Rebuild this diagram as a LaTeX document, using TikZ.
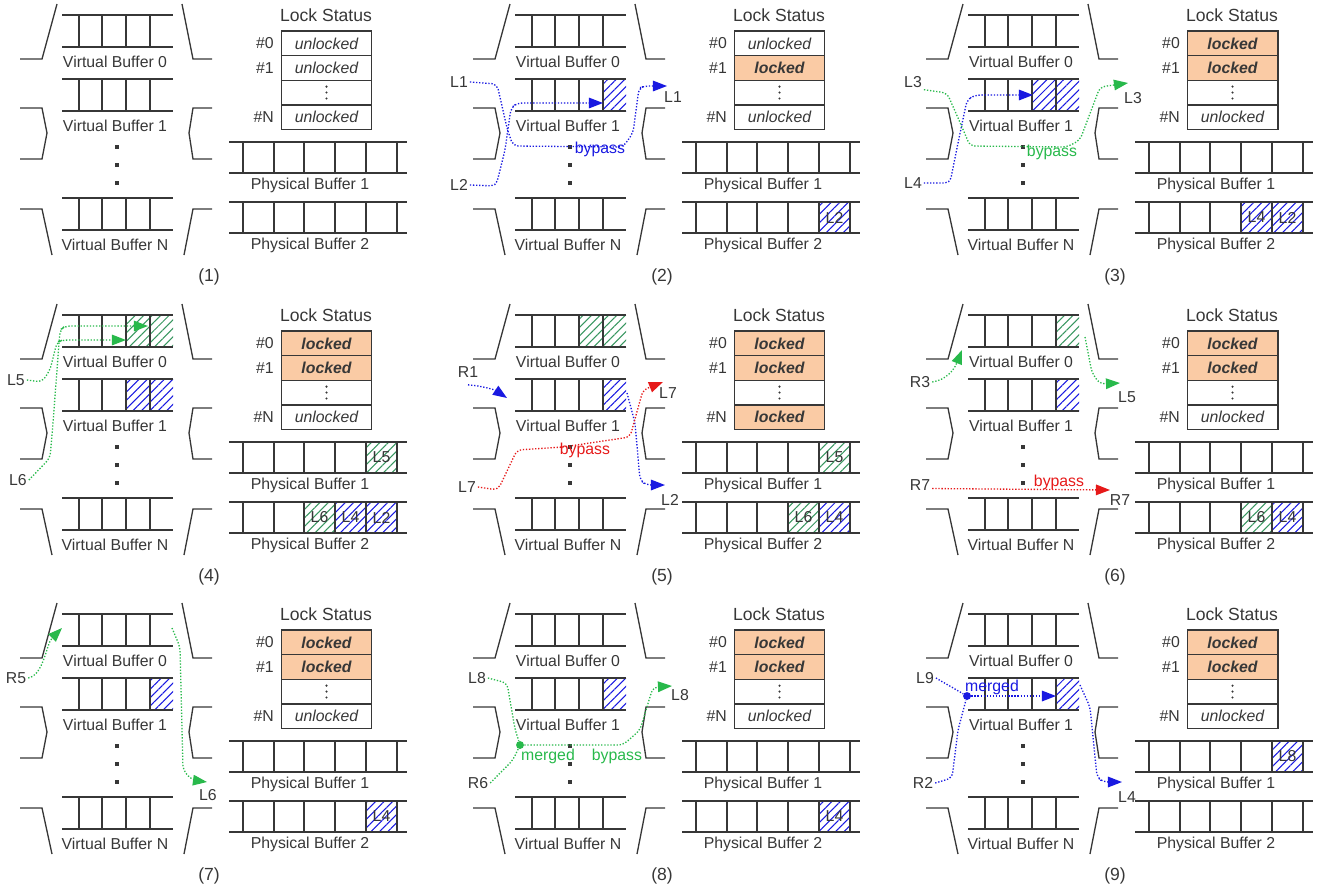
\documentclass[tikz,border=0pt]{standalone}
\usepackage{fontspec}
\setmainfont{Liberation Sans}
\usepackage{xcolor}
\usetikzlibrary{arrows.meta,positioning,patterns.meta}

\definecolor{bufgray}{RGB}{55,55,55}
\definecolor{flowblue}{RGB}{25,25,225}
\definecolor{flowgreen}{RGB}{40,185,75}
\definecolor{hatchgreen}{RGB}{55,150,95}
\definecolor{flowred}{RGB}{230,25,25}
\definecolor{lockfill}{RGB}{250,203,165}

% common part of one panel: virtual buffers, lock table, physical buffers
\newcommand{\bufpanel}[5]{%
  \foreach \vy/\vn in {15/0,79/1,198/N}{
    \draw[bufline] (62,\vy) -- (173,\vy) (62,\vy+32) -- (173,\vy+32);
    \foreach \vx in {79,102,126,150} \draw[bufline] (\vx,\vy) -- (\vx,\vy+32);
    \node[buftext] (#1vb\vn) at (115,\vy+47) {Virtual Buffer \vn};
  }
  \foreach \dy in {147,165,183} \node[vdot] at (117,\dy) {};
  % input and output brackets
  \draw[bufline] (20,59) -- (42,59) -- (57,4);
  \draw[bufline] (20,108) -- (42,108) -- (47,133) -- (42,159) -- (20,159);
  \draw[bufline] (20,209) -- (42,209) -- (52,255);
  \draw[bufline] (182,4) -- (193,59) -- (212,59);
  \draw[bufline] (212,108) -- (193,108) -- (189,133) -- (193,159) -- (212,159);
  \draw[bufline] (212,209) -- (193,209) -- (184,255);
  % lock status table
  \node[titletext] (#1ttl) at (326,15) {Lock Status};
  \node[lockcell,#3] (#1s0) at (326.5,43.4) {};
  \node[lockcell,#4,below=0pt of #1s0] (#1s1) {};
  \node[lockcell,below=0pt of #1s1] (#1sd) {};
  \node[lockcell,#5,below=0pt of #1sd] (#1sN) {};
  \foreach \ly in {-6,0,6} \fill[bufgray] ([yshift=\ly*0.567pt]#1sd.center) circle (0.65pt);
  \node[buftext,left=4pt of #1s0] {\#0};
  \node[buftext,left=4pt of #1s1] {\#1};
  \node[buftext,left=4pt of #1sN] {\#N};
  % physical buffers
  \foreach \py/\pn in {142/1,202/2}{
    \draw[bufline] (229,\py) -- (407,\py) (229,\py+31) -- (407,\py+31);
    \foreach \px in {243,274,304,335,366,397} \draw[bufline] (\px,\py) -- (\px,\py+31);
    \node[buftext] (#1pb\pn) at (310,\py+43) {Physical Buffer \pn};
  }
  \node[titletext] (#1cap) at (209,277) {(#2)};
}

\begin{document}
\begin{tikzpicture}[
    x=0.02cm, y=-0.02cm,
    bufline/.style={draw=bufgray,line width=0.75pt},
    buftext/.style={font=\fontsize{9}{10}\selectfont,text=bufgray,inner sep=0pt},
    titletext/.style={font=\fontsize{10}{12}\selectfont,text=bufgray,inner sep=0pt},
    lbl/.style={font=\fontsize{9}{10}\selectfont,text=bufgray,inner sep=1pt},
    celltext/.style={font=\fontsize{9}{10}\selectfont,text=bufgray,inner sep=0pt},
    lockcell/.style={draw=bufgray,line width=0.75pt,minimum width=51.6pt,minimum height=14pt,
      inner sep=0pt,outer sep=0pt,font=\fontsize{9}{10}\selectfont,text=bufgray},
    lkfree/.style={execute at begin node={\itshape unlocked}},
    lkheld/.style={fill=lockfill,execute at begin node={\bfseries\itshape locked}},
    vdot/.style={fill=bufgray,inner sep=0pt,minimum size=2.4pt},
    mergedot/.style={circle,inner sep=0pt,minimum size=4.5pt},
    hb/.style={pattern={Lines[angle=45,distance=3.4pt,line width=0.6pt]},pattern color=flowblue},
    hg/.style={pattern={Lines[angle=45,distance=3.4pt,line width=0.6pt]},pattern color=hatchgreen},
    flow/.style={densely dotted,line width=0.75pt,rounded corners=3pt},
    headed/.style={-{Triangle[length=8pt,width=6pt]}},
    bflow/.style={flow,draw=flowblue,headed},
    gflow/.style={flow,draw=flowgreen,headed},
    rflow/.style={flow,draw=flowred,headed}
]
\useasboundingbox (0,0) rectangle (1325,890);

% (1)
\begin{scope}
\bufpanel{p1}{1}{lkfree}{lkfree}{lkfree}
\end{scope}

% (2)
\begin{scope}[shift={(453,0)}]
\fill[hb] (150,79) rectangle (173,111);
\fill[hb] (366,202) rectangle (397,233);
\bufpanel{p2}{2}{lkfree}{lkheld}{lkfree}
\node[celltext] (p2c5) at (381.5,217.5) {L2};
\node[lbl] (p2L1) at (6,82) {L1};
\node[lbl] (p2L2) at (6,185) {L2};
\node[lbl] (p2o1) at (220,97) {L1};
\coordinate (p2e1) at (214,86);
\coordinate (p2e2) at (150,103);
\draw[bflow] (p2L1.east) -- (44,84) -- (54,128) -- (60,146) -- (170,147) -- (180,133) -- (186,88) -- (192,86) -- (p2e1);
\draw[bflow] (p2L2.east) -- (43,186) -- (52,150) -- (58,108) -- (64,103) -- (p2e2);
\node[lbl,text=flowblue] (p2by) at (147,149) {bypass};
\end{scope}

% (3)
\begin{scope}[shift={(906,0)}]
\fill[hb] (126,79) rectangle (173,111);
\fill[hb] (335,202) rectangle (397,233);
\bufpanel{p3}{3}{lkheld}{lkheld}{lkfree}
\node[celltext] (p3c4) at (350.5,217.5) {L4};
\node[celltext] (p3c5) at (381.5,217.5) {L2};
\node[lbl] (p3L3) at (7,82) {L3};
\node[lbl] (p3L4) at (7,183) {L4};
\node[lbl] (p3o3) at (227,98) {L3};
\coordinate (p3e3) at (222,83);
\coordinate (p3e4) at (127,95);
\draw[bflow] (p3L4.east) -- (44,183) -- (52,143) -- (61,100) -- (69,95) -- (p3e4);
\draw[gflow] (p3L3.south east) -- (41,93) -- (56,127) -- (64,146) -- (161,147) -- (174,140) -- (194,87) -- (p3e3);
\node[lbl,text=flowgreen] (p3by) at (146,152) {bypass};
\end{scope}

% (4)
\begin{scope}[shift={(0,300)}]
\fill[hg] (126,15) rectangle (173,47);
\fill[hb] (126,79) rectangle (173,111);
\fill[hg] (366,142) rectangle (397,173);
\fill[hg] (304,202) rectangle (335,233);
\fill[hb] (335,202) rectangle (397,233);
\bufpanel{p4}{4}{lkheld}{lkheld}{lkfree}
\node[celltext] (p4c1) at (381.5,157.5) {L5};
\node[celltext] (p4c3) at (319.5,217.5) {L6};
\node[celltext] (p4c4) at (350.5,217.5) {L4};
\node[celltext] (p4c5) at (381.5,217.5) {L2};
\node[lbl] (p4L5) at (16,80) {L5};
\node[lbl] (p4L6) at (18,180) {L6};
\coordinate (p4e5) at (126,40);
\coordinate (p4e6) at (148,26);
\draw[gflow] (p4L5.east) -- (42,82) -- (50,70) -- (57,42) -- (63,40) -- (p4e5);
\draw[gflow] (p4L6.east) -- (50,158) -- (53,123) -- (60,30) -- (65,26) -- (p4e6);
\end{scope}

% (5)
\begin{scope}[shift={(453,300)}]
\fill[hg] (126,15) rectangle (173,47);
\fill[hb] (150,79) rectangle (173,111);
\fill[hg] (366,142) rectangle (397,173);
\fill[hg] (335,202) rectangle (366,233);
\fill[hb] (366,202) rectangle (397,233);
\bufpanel{p5}{5}{lkheld}{lkheld}{lkheld}
\node[celltext] (p5c1) at (381.5,157.5) {L5};
\node[celltext] (p5c4) at (350.5,217.5) {L6};
\node[celltext] (p5c5) at (381.5,217.5) {L4};
\node[lbl] (p5R1) at (15,72) {R1};
\node[lbl] (p5L7) at (14,187) {L7};
\node[lbl] (p5o7) at (215,93) {L7};
\node[lbl] (p5o2) at (217,200) {L2};
\coordinate (p5e1) at (54,98);
\coordinate (p5s2) at (174,93);
\coordinate (p5e2) at (212,185);
\coordinate (p5e7) at (210,82);
\draw[bflow] ([yshift=-3pt]p5R1.south) .. controls (30,86) and (42,90) .. (p5e1);
\draw[bflow] (p5s2) -- (182,123) -- (187,180) -- (193,185) -- (p5e2);
\draw[rflow] (p5L7.east) -- (45,190) -- (64,150) -- (110,147) -- (177,137) -- (190,90) -- (p5e7);
\node[lbl,text=flowred] (p5by) at (132,150) {bypass};
\end{scope}

% (6)
\begin{scope}[shift={(906,300)}]
\fill[hg] (150,15) rectangle (173,47);
\fill[hb] (150,79) rectangle (173,111);
\fill[hg] (335,202) rectangle (366,233);
\fill[hb] (366,202) rectangle (397,233);
\bufpanel{p6}{6}{lkheld}{lkheld}{lkfree}
\node[celltext] (p6c4) at (350.5,217.5) {L6};
\node[celltext] (p6c5) at (381.5,217.5) {L4};
\node[lbl] (p6R3) at (14,82) {R3};
\node[lbl] (p6R7) at (14,185) {R7};
\node[lbl] (p6o5) at (221,97) {L5};
\node[lbl] (p6o7) at (214,200) {R7};
\coordinate (p6e3) at (56,50);
\coordinate (p6s5) at (179,37);
\coordinate (p6e5) at (214,83);
\coordinate (p6e7) at (204,190);
\draw[gflow] (p6R3.east) .. controls (40,80) and (48,70) .. (p6e3);
\draw[gflow] (p6s5) -- (186,73) -- (194,84) -- (p6e5);
\draw[rflow] ([yshift=-2pt]p6R7.east) -- (p6e7);
\node[lbl,text=flowred] (p6by) at (153,182) {bypass};
\end{scope}

% (7)
\begin{scope}[shift={(0,599)}]
\fill[hb] (150,79) rectangle (173,111);
\fill[hb] (366,202) rectangle (397,233);
\bufpanel{p7}{7}{lkheld}{lkheld}{lkfree}
\node[celltext] (p7c5) at (381.5,217.5) {L4};
\node[lbl] (p7R5) at (16,79) {R5};
\node[lbl] (p7o6) at (208,196) {L6};
\coordinate (p7e5) at (62,29);
\coordinate (p7s6) at (172,29);
\coordinate (p7e6) at (207,183);
\draw[gflow] (p7R5.east) .. controls (44,76) and (46,45) .. (p7e5);
\draw[gflow] (p7s6) -- (180,48) -- (183,171) -- (192,181) -- (p7e6);
\end{scope}

% (8)
\begin{scope}[shift={(453,599)}]
\fill[hb] (150,79) rectangle (173,111);
\fill[hb] (366,202) rectangle (397,233);
\bufpanel{p8}{8}{lkheld}{lkheld}{lkfree}
\node[celltext] (p8c5) at (381.5,217.5) {L4};
\node[lbl] (p8L8) at (24,79) {L8};
\node[lbl] (p8R6) at (25,184) {R6};
\node[lbl] (p8o8) at (227,96) {L8};
\node[mergedot,fill=flowgreen] (p8m) at (67,146) {};
\coordinate (p8e8) at (219,87);
\draw[gflow,-] (p8L8.east) -- (54,84) -- (62,130) -- (p8m);
\draw[gflow,-] (p8R6.east) -- (60,161) -- (p8m);
\draw[gflow] (p8m) -- (170,146) -- (187,131) -- (200,88) -- (p8e8);
\node[lbl,text=flowgreen] (p8mg) at (95,157) {merged};
\node[lbl,text=flowgreen] (p8by) at (164,157) {bypass};
\end{scope}

% (9)
\begin{scope}[shift={(906,599)}]
\fill[hb] (150,79) rectangle (173,111);
\fill[hb] (366,142) rectangle (397,173);
\bufpanel{p9}{9}{lkheld}{lkheld}{lkfree}
\node[celltext] (p9c1) at (381.5,157.5) {L8};
\node[lbl] (p9L9) at (19,79) {L9};
\node[lbl] (p9R2) at (17,184) {R2};
\node[lbl] (p9o4) at (221,198) {L4};
\node[mergedot,fill=flowblue] (p9m) at (61,97) {};
\coordinate (p9e9) at (150,97);
\coordinate (p9s4) at (174,86);
\coordinate (p9e4) at (216,183);
\draw[bflow,-] (p9L9.east) -- (p9m);
\draw[bflow,-] (p9R2.east) -- (46,179) -- (52,131) -- (p9m);
\draw[bflow] (p9m) -- (p9e9);
\draw[bflow] (p9s4) -- (184,108) -- (191,178) -- (197,183) -- (p9e4);
\node[lbl,text=flowblue] (p9mg) at (86,88) {merged};
\end{scope}
\end{tikzpicture}
\end{document}
